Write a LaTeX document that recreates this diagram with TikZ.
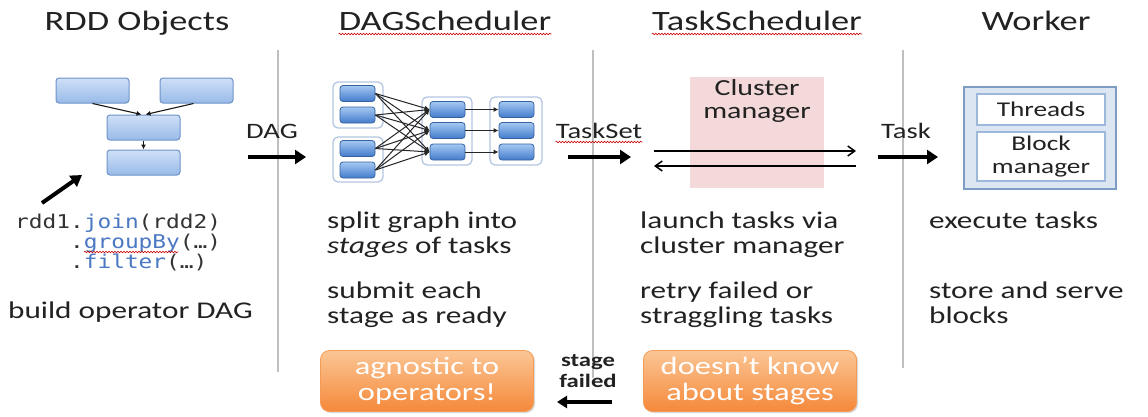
\documentclass[tikz,border=0pt]{standalone}
\usepackage{fontspec}
\setmainfont[FakeStretch=1.3]{Carlito}
\setmonofont[FakeStretch=1.2]{DejaVu Sans Mono}
\usetikzlibrary{arrows.meta,decorations.pathmorphing,shadows}
\definecolor{textc}{HTML}{222222}
\definecolor{sepc}{HTML}{BFBFBF}
\definecolor{rddtop}{HTML}{CFE0F7}
\definecolor{rddbot}{HTML}{98BAE8}
\definecolor{rddedge}{HTML}{6F93C9}
\definecolor{conte}{HTML}{B4C7E2}
\definecolor{dtop}{HTML}{A4C8F2}
\definecolor{dbot}{HTML}{437BCB}
\definecolor{dedge}{HTML}{35639F}
\definecolor{pinkc}{HTML}{F3D9D9}
\definecolor{wkfill}{HTML}{DCE6F2}
\definecolor{wkedge}{HTML}{7D9CC4}
\definecolor{wkin}{HTML}{9DB8DA}
\definecolor{otop}{HTML}{FBC595}
\definecolor{obot}{HTML}{F5893A}
\definecolor{oedge}{HTML}{F49B55}
\definecolor{codeblue}{HTML}{4A78C2}
\definecolor{coded}{HTML}{333333}
\tikzset{
  title/.style={font=\fontsize{28}{30}\selectfont, text=textc, anchor=base, inner sep=0},
  body/.style={font=\fontsize{24}{25}\selectfont, align=left, anchor=base west, inner sep=0, text=textc},
  lbl/.style={font=\fontsize{22}{24}\selectfont, text=textc, anchor=base, inner sep=0},
  code/.style={font=\ttfamily\fontsize{19}{20}\selectfont, anchor=base west, inner sep=0, text=coded},
  sepline/.style={draw=sepc, line width=1.8pt},
  rddbox/.style={draw=rddedge, line width=1pt, rounded corners=3pt, top color=rddtop, bottom color=rddbot, minimum width=73pt, minimum height=25pt, inner sep=0},
  contbox/.style={draw=conte, line width=1.3pt, rounded corners=5pt, fill=white, inner sep=0},
  dbox/.style={draw=dedge, line width=0.8pt, rounded corners=3pt, top color=dtop, bottom color=dbot, minimum width=35pt, minimum height=16pt, inner sep=0},
  thinarr/.style={line width=1.1pt, -{Latex[length=5pt,width=5pt]}, draw=black!90},
  dagarr/.style={line width=1pt, -{Latex[length=5pt,width=5pt]}, draw=black!85},
  bigarrow/.style={line width=4.5pt, -{Triangle[length=11pt,width=14pt]}, draw=black},
  cmarrow/.style={line width=1.5pt, -{Straight Barb[length=7pt,width=10pt]}, draw=black},
  squig/.style={draw=red!80!black, line width=0.6pt, decorate, decoration={snake, segment length=3pt, amplitude=0.8pt}},
  obox/.style={rounded corners=9pt, top color=otop, bottom color=obot, draw=oedge, line width=0.8pt, text=white, align=center, font=\fontsize{25}{26}\selectfont, minimum width=213pt, minimum height=61pt, inner sep=0, drop shadow={shadow xshift=1.5pt, shadow yshift=-1.5pt, opacity=0.3}},
}
\begin{document}
\begin{tikzpicture}[x=1pt,y=-1pt]
\useasboundingbox (0,0) rectangle (1148,416);
\fill[white] (0,0) rectangle (1148,416);

% separators
\coordinate (s1t) at (278,50); \coordinate (s1b) at (278,372);
\coordinate (s2t) at (593,50); \coordinate (s2b) at (593,378);
\coordinate (s3t) at (903,50); \coordinate (s3b) at (903,368);
\draw[sepline] (s1t) -- (s1b);
\draw[sepline] (s2t) -- (s2b);
\draw[sepline] (s3t) -- (s3b);

% titles
\node[title] (t1) at (137,30) {RDD Objects};
\node[title] (t2) at (445,30) {DAGScheduler};
\node[title] (t3) at (757,30) {TaskScheduler};
\node[title] (t4) at (1036,30) {Worker};
\draw[squig] ([yshift=-4pt]t2.base west) -- ([yshift=-4pt]t2.base east);
\draw[squig] ([yshift=-4pt]t3.base west) -- ([yshift=-4pt]t3.base east);

% RDD objects
\node[rddbox] (r1) at (92.5,90.5) {};
\node[rddbox] (r2) at (196.5,90.5) {};
\node[rddbox] (r3) at (143.5,127.5) {};
\node[rddbox] (r4) at (143.5,162.5) {};
\draw[thinarr] (r1.south) -- ([xshift=-2pt]r3.north);
\draw[thinarr] ([xshift=-3pt]r2.south) -- ([xshift=2pt]r3.north);
\draw[thinarr] (r3.south) -- (r4.north);
\coordinate (pS) at (42,203); \coordinate (pE) at (82,175);
\draw[line width=4pt, -{Triangle[length=11pt,width=13pt]}] (pS) -- (pE);

\node[code] (c1) at (15,228) {rdd1.\textcolor{codeblue}{join}(rdd2)};
\node[code] (c2) at (15,248) {\phantom{rdd1}.\textcolor{codeblue}{groupBy}(…)};
\node[code] (c3) at (15,268) {\phantom{rdd1}.\textcolor{codeblue}{filter}(…)};
\coordinate (gbS) at (84,252); \coordinate (gbE) at (178,252);
\draw[squig] (gbS) -- (gbE);
\node[body] (bo) at (8,318) {build operator DAG};

% DAG arrow
\node[lbl] (ldag) at (272,138) {DAG};
\coordinate (dS) at (248,157); \coordinate (dE) at (306,157);
\draw[bigarrow] (dS) -- (dE);

% DAG graph
\node[contbox, minimum width=50pt, minimum height=46pt] (A1) at (358,105) {};
\node[contbox, minimum width=50pt, minimum height=45pt] (A2) at (358,159.5) {};
\node[contbox, minimum width=50pt, minimum height=68pt] (B) at (447,131) {};
\node[contbox, minimum width=52pt, minimum height=68pt] (C) at (516,131) {};
\node[dbox] (a1) at (357.5,93.5) {};
\node[dbox] (a2) at (357.5,115) {};
\node[dbox] (a3) at (357.5,148.5) {};
\node[dbox] (a4) at (357.5,170) {};
\node[dbox] (b1) at (447.5,109.5) {};
\node[dbox] (b2) at (447.5,130.5) {};
\node[dbox] (b3) at (447.5,152) {};
\node[dbox] (k1) at (516.5,109.5) {};
\node[dbox] (k2) at (516.5,130.5) {};
\node[dbox] (k3) at (516.5,152) {};
\foreach \i in {a1,a2,a3,a4}{
  \foreach \j in {b1,b2,b3}{
    \draw[dagarr] (\i.east) -- (\j.west);
  }
}
\draw[dagarr] (b1.east) -- (k1.west);
\draw[dagarr] (b2.east) -- (k2.west);
\draw[dagarr] (b3.east) -- (k3.west);

\node[body] (d1) at (327,253) {split graph into\\\textit{stages} of tasks};
\node[body] (d2) at (327,323) {submit each\\stage as ready};

% TaskSet arrow
\node[lbl] (lts) at (599,138) {TaskSet};
\draw[squig] ([yshift=-4pt]lts.base west) -- ([yshift=-4pt]lts.base east);
\coordinate (tS) at (568,157); \coordinate (tE) at (631,157);
\draw[bigarrow] (tS) -- (tE);

% Cluster manager
\node[fill=pinkc, minimum width=134pt, minimum height=111pt, inner sep=0] (cm) at (757,132.5) {};
\node[font=\fontsize{23}{23}\selectfont, align=center, text=textc, inner sep=0] (cmt) at (757,101) {Cluster\\manager};
\coordinate (ca1) at (654,151); \coordinate (ca2) at (856,151);
\coordinate (cb1) at (856,166); \coordinate (cb2) at (654,166);
\draw[cmarrow] (ca1) -- (ca2);
\draw[cmarrow] (cb1) -- (cb2);

\node[body] (e1) at (640,253) {launch tasks via\\cluster manager};
\node[body] (e2) at (640,323) {retry failed or\\straggling tasks};

% Task arrow
\node[lbl] (ltk) at (906,138) {Task};
\coordinate (kS) at (878,157); \coordinate (kE) at (938,157);
\draw[bigarrow] (kS) -- (kE);

% Worker
\node[fill=wkfill, draw=wkedge, line width=1.5pt, minimum width=152pt, minimum height=102pt, inner sep=0] (wk) at (1040,138) {};
\node[fill=white, draw=wkin, line width=1.2pt, minimum width=128pt, minimum height=31pt, inner sep=0, font=\fontsize{21}{22}\selectfont, text=textc] (thr) at (1041,109.5) {Threads};
\node[fill=white, draw=wkin, line width=1.2pt, minimum width=128pt, minimum height=49pt, inner sep=0, font=\fontsize{21}{23}\selectfont, align=center, text=textc] (blk) at (1041,156.5) {Block\\manager};

\node[body] (f1) at (929,228) {execute tasks};
\node[body] (f2) at (929,323) {store and serve\\blocks};

% bottom
\node[obox] (o1) at (427,381) {agnostic to\\operators!};
\node[obox] (o2) at (750,381) {doesn’t know\\about stages};
\node[font=\bfseries\fontsize{19}{21}\selectfont, align=center, text=textc, inner sep=0] (sf) at (588,371) {stage\\failed};
\coordinate (fS) at (612,402); \coordinate (fE) at (557,402);
\draw[line width=4pt, -{Triangle[length=10pt,width=12pt]}] (fS) -- (fE);
\end{tikzpicture}
\end{document}
